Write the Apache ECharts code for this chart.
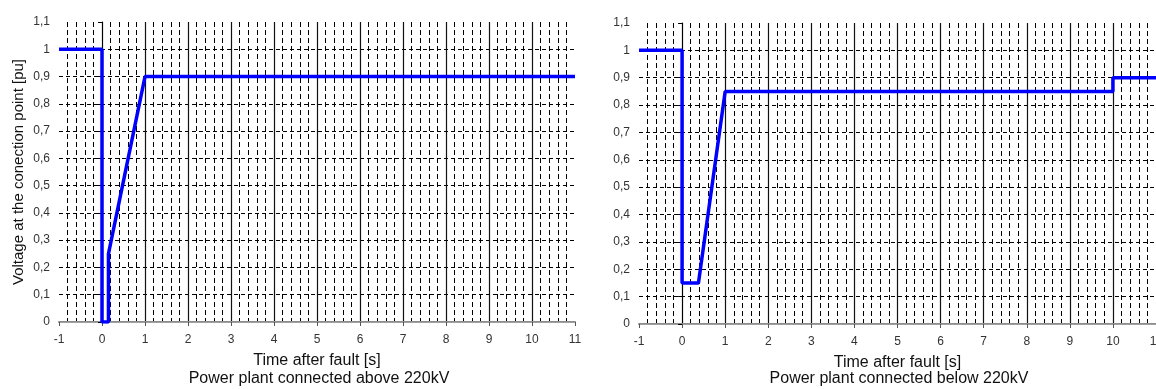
<!DOCTYPE html>
<html>
<head>
<meta charset="utf-8">
<script src="https://cdn.jsdelivr.net/npm/echarts@6/dist/echarts.min.js"></script>
<style>
  html, body { margin: 0; padding: 0; background: #fff; }
  #main { width: 1156px; height: 389px; }
</style>
</head>
<body>
<div id="main"></div>
<script>
// voltage profiles (time in s, voltage in pu)
const leftTime  = [-1, 0, 0, 0.15, 0.15, 1, 11];
const leftVolt  = [1, 1, 0, 0, 0.25, 0.9, 0.9];
const rightTime = [-1, 0, 0, 0.38, 1, 10, 10, 11];
const rightVolt = [1, 1, 0.15, 0.15, 0.85, 0.85, 0.9, 0.9];

const xTicks = [-1, 0, 1, 2, 3, 4, 5, 6, 7, 8, 9, 10, 11];
const yTicks = [0, 0.1, 0.2, 0.3, 0.4, 0.5, 0.6, 0.7, 0.8, 0.9, 1, 1.1];

const leftCaption = 'Power plant connected above 220kV';
const rightCaption = 'Power plant connected below 220kV';
const xName = 'Time after fault [s]';
const yName = 'Voltage at the conection point [pu]';

const FONT = '"Liberation Sans", Arial, sans-serif';

function pairs(xs, ys) {
  let out = [];
  for (let i = 0; i < xs.length; i++) {
    out.push([xs[i], ys[i]]);
  }
  return out;
}

function xAxisFor(idx, withName) {
  return {
    type: 'value',
    gridIndex: idx,
    min: xTicks[0],
    max: xTicks[xTicks.length - 1],
    interval: 1,
    name: withName ? xName : '',
    nameLocation: 'middle',
    nameGap: 31,
    nameTextStyle: { color: '#111', fontSize: 16, fontFamily: FONT },
    axisLine: { show: true, onZero: false, lineStyle: { color: '#8c8c8c', width: 2 } },
    axisTick: { show: true, length: 4, lineStyle: { color: '#555' } },
    axisLabel: { color: '#333', fontSize: 12, fontFamily: FONT, margin: 12 },
    splitLine: {
      show: true,
      showMinLine: false,
      showMaxLine: false,
      lineStyle: { color: '#111', width: 1.2, type: 'solid' },
    },
    minorTick: { show: false, splitNumber: 5 },
    minorSplitLine: {
      show: true,
      lineStyle: { color: '#000', width: 1, type: [5, 3] },
    },
  };
}

// thin gray line along the top of each plot
function topAxisFor(idx) {
  return {
    type: 'value',
    gridIndex: idx,
    position: 'top',
    min: xTicks[0],
    max: xTicks[xTicks.length - 1],
    axisLine: { show: true, lineStyle: { color: '#a0a0a0', width: 1 } },
    axisTick: { show: false },
    axisLabel: { show: false },
    splitLine: { show: false },
  };
}

function yAxisFor(idx, withName) {
  return {
    type: 'value',
    gridIndex: idx,
    min: yTicks[0],
    max: yTicks[yTicks.length - 1],
    interval: 0.1,
    name: withName ? yName : '',
    nameLocation: 'middle',
    nameGap: 33,
    nameTextStyle: { color: '#111', fontSize: 15, fontFamily: FONT },
    axisLine: { show: true, lineStyle: { color: '#000', width: 1 } },
    axisTick: { show: true, length: 4, lineStyle: { color: '#000' } },
    axisLabel: {
      color: '#333',
      fontSize: 12,
      fontFamily: FONT,
      margin: 9,
      formatter: function (v) {
        return String(+v.toFixed(1)).replace('.', ',');
      },
    },
    splitLine: {
      show: true,
      showMinLine: false,
      showMaxLine: false,
      lineStyle: { color: '#000', width: 1, type: [4, 3] },
    },
  };
}

function lineSeries(idx, data) {
  return {
    type: 'line',
    xAxisIndex: idx * 2,
    yAxisIndex: idx,
    data: data,
    showSymbol: false,
    symbol: 'none',
    animation: false,
    lineStyle: { color: '#0000ff', width: 3.5 },
    z: 5,
  };
}

const myChart = echarts.init(document.getElementById('main'), null, { renderer: 'canvas' });
const option = {
  backgroundColor: '#fff',
  animation: false,
  grid: [
    { left: 59, right: 581, top: 22, bottom: 67, outerBoundsMode: 'none', containLabel: false },
    { left: 639, right: 0, top: 23, bottom: 65, outerBoundsMode: 'none', containLabel: false },
  ],
  xAxis: [
    xAxisFor(0, true),
    topAxisFor(0),
    xAxisFor(1, true),
    topAxisFor(1),
  ],
  yAxis: [
    yAxisFor(0, true),
    yAxisFor(1, false),
  ],
  graphic: [
    {
      type: 'text',
      x: 319, y: 379,
      style: {
        text: leftCaption, fill: '#111', font: '16px ' + FONT,
        textAlign: 'center', textVerticalAlign: 'middle',
      },
    },
    {
      type: 'text',
      x: 899, y: 379,
      style: {
        text: rightCaption, fill: '#111', font: '16px ' + FONT,
        textAlign: 'center', textVerticalAlign: 'middle',
      },
    },
  ],
  series: [
    lineSeries(0, pairs(leftTime, leftVolt)),
    lineSeries(1, pairs(rightTime, rightVolt)),
  ],
};
myChart.setOption(option);
</script>
</body>
</html>
